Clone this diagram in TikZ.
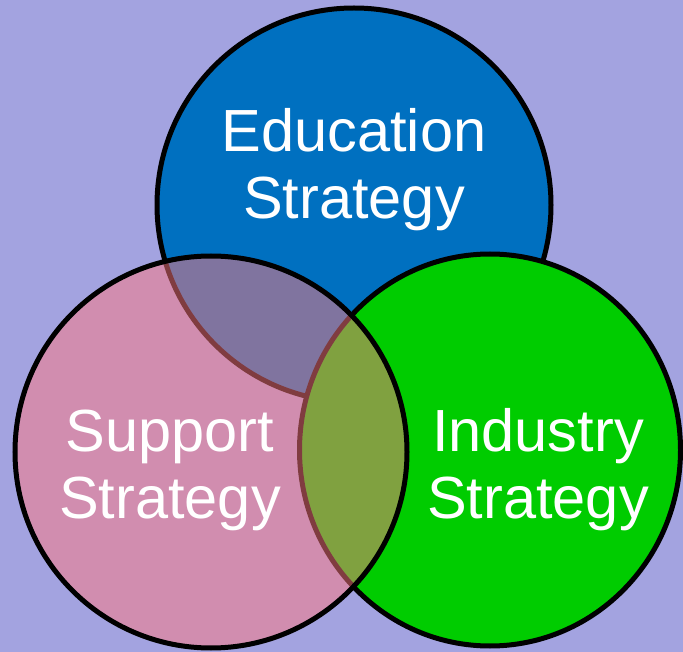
\documentclass[tikz,border=0pt]{standalone}
\usepackage{fontspec}
\usetikzlibrary{shapes.geometric}
\setmainfont{Liberation Sans}
\definecolor{bglav}{HTML}{A3A3E0}
\definecolor{edublue}{HTML}{0070C0}
\definecolor{indgreen}{HTML}{00CC00}
\definecolor{suppink}{HTML}{FF7880}
\tikzset{
  venn/.style={ellipse, draw=black, line width=5pt, minimum width=392pt, minimum height=392pt, inner sep=0pt},
  vlabel/.style={text=white, align=center, inner sep=0pt, font=\fontsize{59.5}{67}\selectfont}
}
\begin{document}
\begin{tikzpicture}[x=1pt,y=-1pt]
\useasboundingbox (0,0) rectangle (683,652);
\fill[bglav] (0,0) rectangle (683,652);
\node[venn, fill=edublue, minimum width=394pt, minimum height=394pt] (edu) at (354,205) {};
\node[venn, fill=indgreen, minimum width=381pt, minimum height=392pt] (ind) at (490,450) {};
\node[venn, fill=suppink, fill opacity=0.5, draw opacity=1] (sup) at (211,452) {};
\node[vlabel] (edut) at (354,170) {Education\\Strategy};
\node[vlabel] (supt) at (170,470) {Support\\Strategy};
\node[vlabel] (indt) at (538,470) {Industry\\Strategy};
\end{tikzpicture}
\end{document}
